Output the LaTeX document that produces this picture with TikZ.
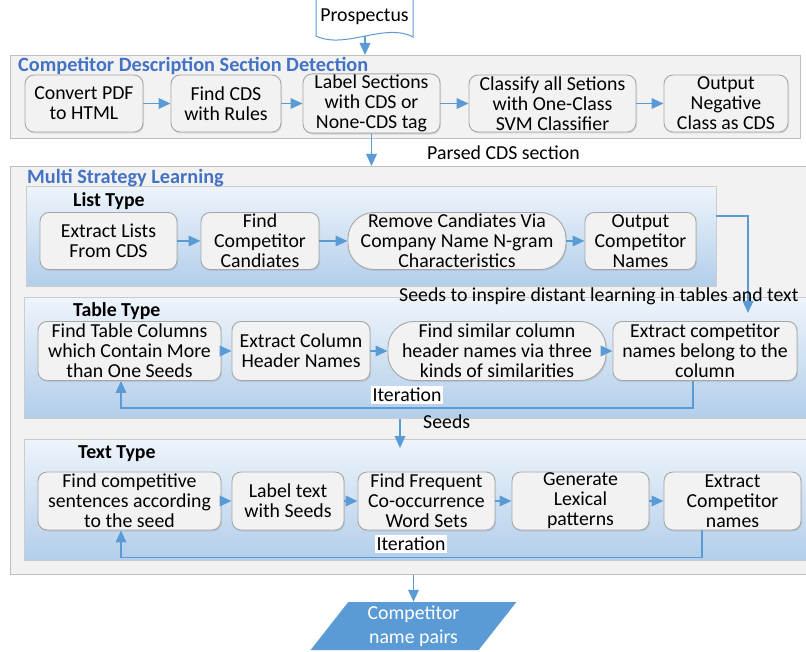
\documentclass[tikz,border=0pt]{standalone}
\usepackage{fontspec}
\setmainfont{Carlito}
\usetikzlibrary{arrows.meta,shapes.geometric,shadows}
\definecolor{flowblue}{HTML}{5B9BD5}
\definecolor{headblue}{HTML}{4472C4}
\definecolor{boxgray}{HTML}{A6A6A6}
\definecolor{boxfill}{HTML}{F2F2F2}
\definecolor{panelgray}{HTML}{BFBFBF}
\definecolor{paneltop}{HTML}{EEF4FB}
\definecolor{panelbot}{HTML}{B2CEEA}
\tikzset{
	procbox/.style={draw=boxgray, fill=boxfill, rounded corners=9pt, align=center,
		minimum height=57pt, inner sep=1pt, line width=0.9pt,
		drop shadow={shadow xshift=1pt, shadow yshift=-1.5pt, opacity=0.2}},
	pillbox/.style={procbox, rounded corners=26pt},
	outerpanel/.style={draw=panelgray, fill=boxfill, line width=1pt, anchor=north west, inner sep=0pt},
	typepanel/.style={draw=panelgray!80, top color=paneltop, bottom color=panelbot,
		line width=1pt, anchor=north west, inner sep=0pt},
	flow/.style={draw=flowblue, line width=1.9pt, -{Triangle[length=12pt,width=10.5pt]}},
	heading/.style={font=\fontsize{20.3}{20}\selectfont\bfseries, text=headblue, anchor=west, inner sep=0pt},
	typehead/.style={font=\fontsize{19.8}{20}\selectfont\bfseries, anchor=west, inner sep=0pt},
	tag/.style={anchor=west, inner sep=0pt},
	itertag/.style={fill=white, inner sep=2pt}
}

\begin{document}
\begin{tikzpicture}[x=1pt, y=-1pt, font=\fontsize{19.8}{20}\selectfont]
			\useasboundingbox (0,0) rectangle (806,652);
			\draw[draw=flowblue, fill=white, line width=1pt] (316,-2) -- (316,36)
				.. controls (345,50) and (385,22) .. (413,37) -- (413,-2);
			\node (pros) at (364.5,17) {Prospectus};
			\coordinate (prosbot) at (365,36);
			\node[outerpanel, minimum width=790pt, minimum height=83pt] (cdsd) at (10,55) {};
			\node[outerpanel, minimum width=800pt, minimum height=408pt] (msl) at (10,166) {};
			\node[typepanel, minimum width=690pt, minimum height=100pt] (listp) at (26,186) {};
			\node[typepanel, minimum width=790pt, minimum height=121pt] (tablep) at (24,297) {};
			\node[typepanel, minimum width=790pt, minimum height=121pt] (textp) at (24,439) {};
			\node[heading] (cdsdhead) at (18,66) {Competitor Description Section Detection};
			\node[heading] (mslhead) at (27,178) {Multi Strategy Learning};
			\node[typehead] (listhead) at (73,201) {List Type};
			\node[typehead] (tablehead) at (73,311) {Table Type};
			\node[typehead] (texthead) at (78,454) {Text Type};
			\node[procbox, minimum width=118pt] (cvt) at (84,103.5) {Convert PDF\\to HTML};
			\node[procbox, minimum width=110pt] (fcds) at (226,103.5) {Find CDS\\with Rules};
			\node[procbox, minimum width=137pt] (lbl) at (371.5,103.5) {Label Sections\\with CDS or\\None-CDS tag};
			\node[procbox, minimum width=167pt] (cls) at (552.5,103.5) {Classify all Setions\\with One-Class\\SVM Classifier};
			\node[procbox, minimum width=124pt] (outneg) at (726,103.5) {Output\\Negative\\Class as CDS};
			\node[procbox, minimum width=137pt] (lst1) at (108.5,241) {Extract Lists\\From CDS};
			\node[procbox, minimum width=118pt] (lst2) at (260,241) {Find\\Competitor\\Candiates};
			\node[pillbox, minimum width=218pt] (lst3) at (457,241) {Remove Candiates Via\\Company Name N-gram\\Characteristics};
			\node[procbox, minimum width=111pt] (lst4) at (640.5,241) {Output\\Competitor\\Names};
			\node[procbox, minimum width=183pt, minimum height=59pt] (tab1) at (129.5,351) {Find Table Columns\\which Contain More\\than One Seeds};
			\node[procbox, minimum width=138pt, minimum height=59pt] (tab2) at (301,351) {Extract Column\\Header Names};
			\node[pillbox, minimum width=218pt, minimum height=59pt] (tab3) at (497,351) {Find similar column\\header names via three\\kinds of similarities};
			\node[procbox, minimum width=184pt, minimum height=59pt] (tab4) at (705,351) {Extract competitor\\names belong to the\\column};
			\node[procbox, minimum width=183pt, minimum height=58pt] (txt1) at (129.5,501) {Find competitive\\sentences according\\to the seed};
			\node[procbox, minimum width=112pt, minimum height=58pt] (txt2) at (288,501) {Label text\\with Seeds};
			\node[procbox, minimum width=137pt, minimum height=58pt] (txt3) at (426.5,501) {Find Frequent\\Co-occurrence\\Word Sets};
			\node[procbox, minimum width=137pt, minimum height=58pt] (txt4) at (580.5,501) {Generate\\Lexical\\patterns};
			\node[procbox, minimum width=137pt, minimum height=58pt] (txt5) at (732.5,501) {Extract\\Competitor\\names};
			\node[trapezium, trapezium left angle=57, trapezium right angle=123, trapezium stretches=true,
				fill=flowblue, text=white, align=center, minimum height=48pt, minimum width=206pt,
				inner sep=0pt, font=\fontsize{19.8}{24}\selectfont] (pairs) at (413.5,626) {Competitor\\name pairs};
			\draw[flow] (prosbot) -- (cdsd.north -| prosbot);
			\draw[flow] (cvt.east) -- (fcds.west);
			\draw[flow] (fcds.east) -- (lbl.west);
			\draw[flow] (lbl.east) -- (cls.west);
			\draw[flow] (cls.east) -- (outneg.west);
			\draw[flow] (lbl.south) -- (lbl.south |- msl.north);
			\node[tag] (parsed) at (427,153) {Parsed CDS section};
			\draw[flow] (lst1.east) -- (lst2.west);
			\draw[flow] (lst2.east) -- (lst3.west);
			\draw[flow] (lst3.east) -- (lst4.west);
			\coordinate (seedout) at (716,216);
			\coordinate (seedin) at (748,313);
			\draw[flow] (seedout) -| (seedin);
			\node[tag] (seedtag) at (399,296) {Seeds to inspire distant learning in tables and text};
			\draw[flow] (tab1.east) -- (tab2.west);
			\draw[flow] (tab2.east) -- (tab3.west);
			\draw[flow] (tab3.east) -- (tab4.west);
			\draw[flow] ([xshift=-12pt]tab4.south) -- ++(0,27) -| ([xshift=-8.5pt]tab1.south);
			\node[itertag] (tabiter) at (407,395) {Iteration};
			\coordinate (seedtop) at (400,419);
			\coordinate (seedend) at (400,448);
			\draw[flow] (seedtop) -- (seedend);
			\node[tag] (seedslbl) at (423,422) {Seeds};
			\draw[flow] (txt1.east) -- (txt2.west);
			\draw[flow] (txt2.east) -- (txt3.west);
			\draw[flow] (txt3.east) -- (txt4.west);
			\draw[flow] (txt4.east) -- (txt5.west);
			\draw[flow] ([xshift=-30.5pt]txt5.south) -- ++(0,27) -| ([xshift=-8.5pt]txt1.south);
			\node[itertag] (textiter) at (411,544) {Iteration};
			\draw[flow] (msl.south -| pairs.north) -- (pairs.north);
			\end{tikzpicture}
\end{document}
